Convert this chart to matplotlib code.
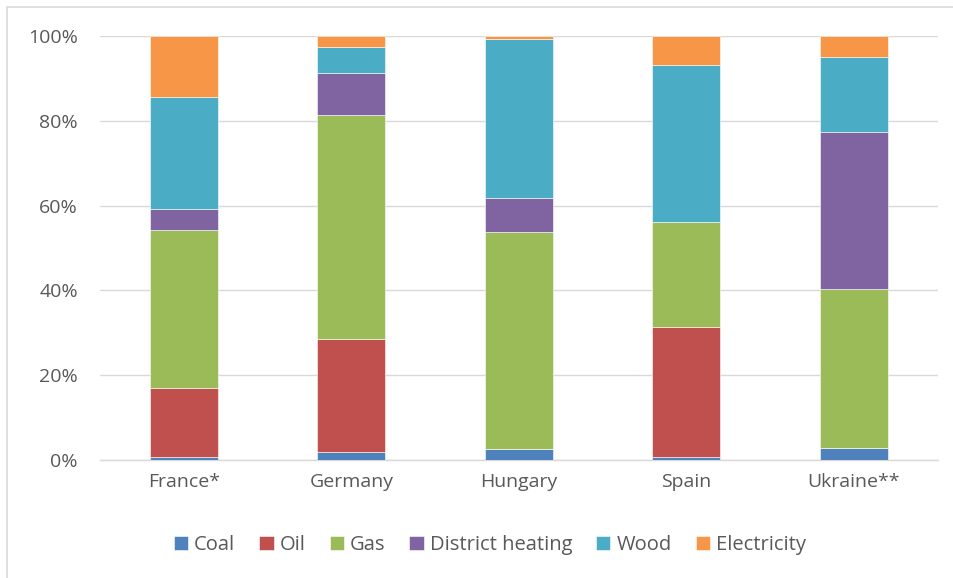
import matplotlib
matplotlib.use("Agg")
import matplotlib.pyplot as plt
import numpy as np
from matplotlib.patches import Rectangle

plt.rcParams['font.family'] = ['Open Sans', 'DejaVu Sans']

#=======================================================
countries = ['France*', 'Germany', 'Hungary', 'Spain', 'Ukraine**']
coal        = [0.7, 1.9, 2.6, 0.8, 2.9]
oil         = [16.4, 26.6, 0.0, 30.6, 0.0]
gas         = [37.1, 52.9, 51.2, 24.7, 37.4]
district    = [5.0, 9.9, 8.0, 0.0, 37.1]
wood        = [26.4, 6.1, 37.5, 37.1, 17.6]
electricity = [14.4, 2.6, 0.7, 6.8, 5.0]

series = [('Coal', coal, '#4F81BD'),
          ('Oil', oil, '#C0504D'),
          ('Gas', gas, '#9BBB59'),
          ('District heating', district, '#8064A2'),
          ('Wood', wood, '#4BACC6'),
          ('Electricity', electricity, '#F79646')]

#=======================================================
fig = plt.figure(figsize=(9.54, 5.78), dpi=100)
ax = fig.add_axes([0.1048, 0.204, 0.878, 0.7337])

x = np.arange(len(countries))
bottom = np.zeros(len(countries))
for name, vals, col in series:
    vals = np.array(vals)
    ax.bar(x, vals, 0.405, bottom=bottom, color=col, label=name,
           edgecolor='white', linewidth=0.4, zorder=3)
    bottom += vals

ax.set_xlim(-0.5, len(countries) - 0.5)
ax.set_ylim(0, 100)
ax.set_yticks(np.arange(0, 101, 20))
ax.set_yticklabels([f'{v}%' for v in range(0, 101, 20)])
ax.set_xticks(x)
ax.set_xticklabels(countries)
ax.grid(axis='y', color='#D9D9D9', linewidth=1, zorder=0)
for s in ['top', 'right', 'left']:
    ax.spines[s].set_visible(False)
ax.spines['bottom'].set_color('#D9D9D9')
ax.spines['bottom'].set_linewidth(1)
ax.tick_params(axis='both', length=0, labelsize=14, colors='#595959')
ax.tick_params(axis='y', pad=16)
ax.tick_params(axis='x', pad=9)

ax.legend(loc='center', bbox_to_anchor=(490 / 954, 1 - 545 / 578),
          bbox_transform=fig.transFigure, ncol=6, frameon=False,
          fontsize=14.5, labelcolor='#595959', handlelength=0.7,
          handleheight=0.7, handletextpad=0.3, columnspacing=1.2)

# chart border
fig.patches.append(Rectangle((7 / 954, -0.01), 1.0, 1 - 7 / 578 + 0.01,
                             transform=fig.transFigure, fill=False,
                             edgecolor='#D9D9D9', linewidth=1.2))

fig.savefig('out.png', dpi=100)
